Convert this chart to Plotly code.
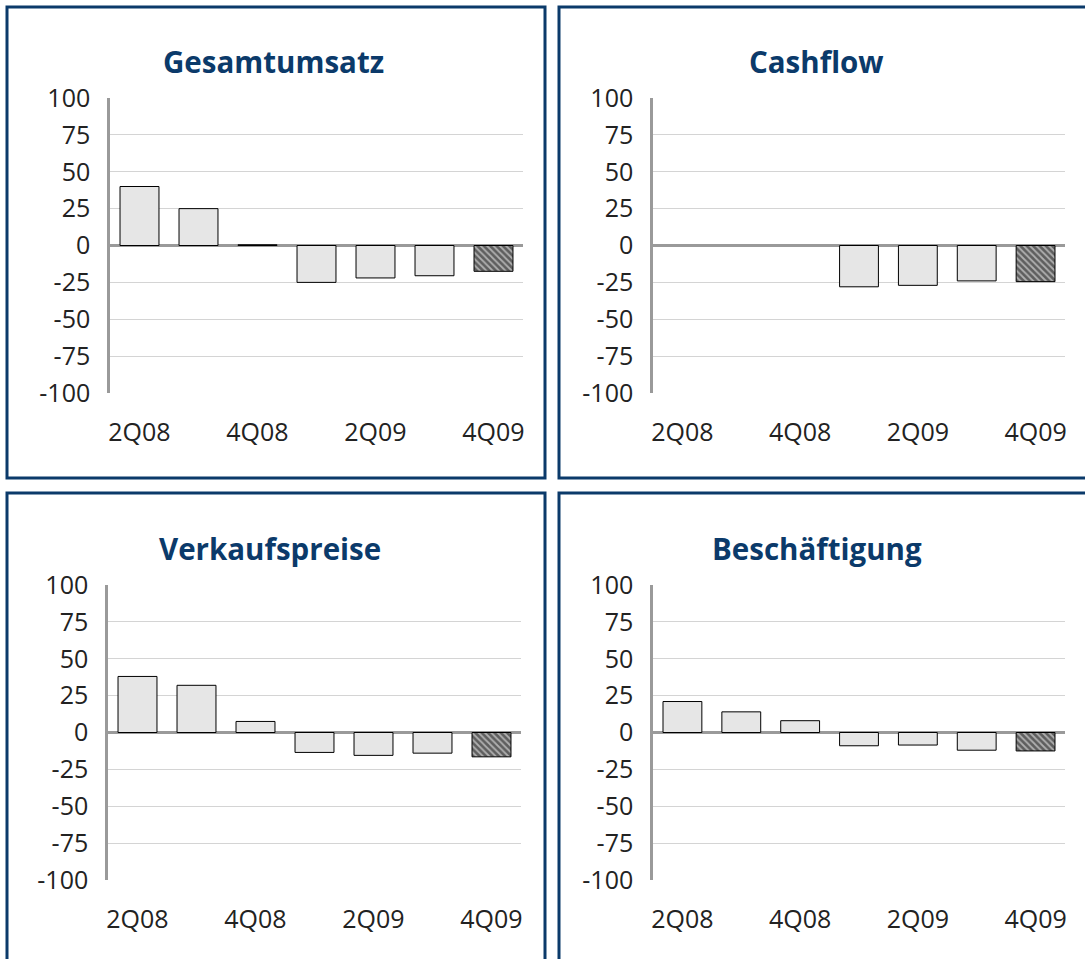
import plotly.graph_objects as go

quarters = ["2Q08", "3Q08", "4Q08", "1Q09", "2Q09", "3Q09", "4Q09"]
tick_labels = ["2Q08", "4Q08", "2Q09", "4Q09"]
y_ticks = [100, 75, 50, 25, 0, -25, -50, -75, -100]
y_tick_text = ["100", "75", "50", "25", "0", "-25", "-50", "-75", "-100"]

titles = ["Gesamtumsatz", "Cashflow", "Verkaufspreise", "Beschäftigung"]
gesamtumsatz = [40, 25, 0.5, -25, -22, -20.5, -17.5]
cashflow = [None, None, None, -28, -27, -24, -24.5]
verkaufspreise = [38, 32, 7.5, -13.5, -15.5, -14, -16.5]
beschaeftigung = [21, 14, 8, -9, -8.5, -12, -12.5]
series = [gesamtumsatz, cashflow, verkaufspreise, beschaeftigung]

W, H = 1085, 959
NAVY = "#0b3a6a"
FONT = "Open Sans"

plots = [
    (110, 523, 98, 393),
    (653, 1065, 98, 393),
    (108, 521, 585, 880),
    (653, 1065, 585, 880),
]
title_pos = [(273, 61), (816, 61), (270, 548), (817, 548)]
borders = [(7, 545, 7, 478), (559, 1095, 7, 478), (7, 545, 493, 975), (559, 1095, 493, 975)]

fig = go.Figure()
for i, (vals, (x0, x1, y0, y1)) in enumerate(zip(series, plots)):
    n = i + 1
    xa = "x" if n == 1 else f"x{n}"
    ya = "y" if n == 1 else f"y{n}"
    fills = ["#e6e6e6"] * (len(quarters) - 1) + ["#5e5e5e"]
    shapes_ = [""] * (len(quarters) - 1) + ["\\"]
    fig.add_trace(go.Bar(
        x=quarters, y=vals, xaxis=xa, yaxis=ya, width=0.66,
        marker=dict(color=fills, line=dict(color="#000000", width=1),
                    pattern=dict(shape=shapes_, fgcolor="#c4c4c4", size=4.5, solidity=0.4)),
        showlegend=False, hoverinfo="x+y",
    ))
    xkey = "xaxis" if n == 1 else f"xaxis{n}"
    ykey = "yaxis" if n == 1 else f"yaxis{n}"
    fig.update_layout(**{
        xkey: dict(domain=[x0 / W, x1 / W], anchor=ya, type="category",
                   categoryorder="array", categoryarray=quarters,
                   range=[-0.5, 6.5], tickmode="array", tickvals=tick_labels,
                   ticktext=tick_labels, showgrid=False, showline=False, automargin=False,
                   ticks="outside", ticklen=17, tickcolor="rgba(0,0,0,0)",
                   tickfont=dict(family=FONT, size=25, color="#222222"), fixedrange=True),
        ykey: dict(domain=[1 - y1 / H, 1 - y0 / H], anchor=xa, range=[-100, 100],
                   tickmode="array", tickvals=y_ticks, ticktext=y_tick_text, showgrid=True,
                   gridcolor="#d4d4d4", gridwidth=1, zeroline=True, zerolinecolor="#9a9a9a",
                   zerolinewidth=2.5, showline=True, linecolor="#9a9a9a", linewidth=2.5,
                   ticks="outside", ticklen=12, tickcolor="rgba(0,0,0,0)", automargin=False,
                   tickfont=dict(family=FONT, size=25, color="#222222"), fixedrange=True),
    })

for t, (cx, cy) in zip(titles, title_pos):
    fig.add_annotation(x=cx / W, y=1 - cy / H, xref="paper", yref="paper", text=f"<b>{t}</b>",
                       showarrow=False, font=dict(family=FONT, size=29.5, color=NAVY),
                       xanchor="center", yanchor="middle")

for (bx0, bx1, by0, by1) in borders:
    fig.add_shape(type="rect", xref="paper", yref="paper", x0=bx0 / W, x1=bx1 / W,
                  y0=1 - by1 / H, y1=1 - by0 / H, line=dict(color=NAVY, width=3),
                  fillcolor="rgba(0,0,0,0)", layer="above")

fig.update_layout(width=W, height=H, margin=dict(l=0, r=0, t=0, b=0, pad=0, autoexpand=False),
                  paper_bgcolor="white", plot_bgcolor="white", bargap=0.34,
                  font=dict(family=FONT))
fig.write_html("out.html", config={"displayModeBar": False},
               post_script="document.body.style.margin='0';document.body.style.overflow='hidden';")
